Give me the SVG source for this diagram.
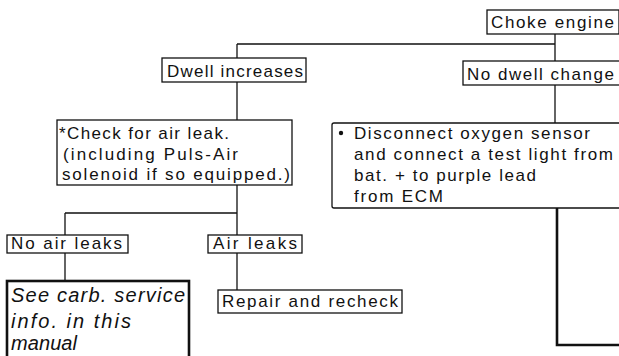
<svg xmlns="http://www.w3.org/2000/svg" width="619" height="356" viewBox="0 0 619 356">
<style>
.box{fill:#fff;stroke:#111;stroke-width:1.3}
.thick{fill:#fff;stroke:#111;stroke-width:2.6}
.t{font-family:"Liberation Sans",Arial,sans-serif;font-size:17px;fill:#111}
.it{font-family:"Liberation Sans",Arial,sans-serif;font-size:20px;font-style:italic;fill:#111}
.c{fill:none;stroke:#111;stroke-width:1.3}
.ct{fill:none;stroke:#111;stroke-width:2.6}
</style>
<rect width="619" height="356" fill="#fff"/>
<g id="connectors">
<path class="c" d="M555 34V61M237 44H555M237 44V58"/>
<path class="c" d="M237 82V120"/>
<path class="c" d="M555 85V123"/>
<path class="ct" d="M557 208V345H619"/>
<path class="c" d="M237 185V235M65 213H237M65 213V235"/>
<path class="c" d="M65 253V281"/>
<path class="c" d="M237 253V290"/>
</g>
<g id="choke">
<rect class="box" x="487" y="10" width="132" height="24"/>
<text class="t" x="491" y="28" textLength="123" lengthAdjust="spacing">Choke engine</text>
</g>
<g id="dwell-increases">
<rect class="box" x="162" y="58" width="144" height="24"/>
<text class="t" x="167" y="77" textLength="136" lengthAdjust="spacing">Dwell increases</text>
</g>
<g id="no-dwell-change">
<rect class="box" x="463" y="61" width="160" height="24"/>
<text class="t" x="467" y="80" textLength="147" lengthAdjust="spacing">No dwell change</text>
</g>
<g id="check-air-leak">
<rect class="box" x="57" y="120" width="235" height="65"/>
<text class="t" x="59" y="139" textLength="170" lengthAdjust="spacing">*Check for air leak.</text>
<text class="t" x="63" y="160" textLength="175" lengthAdjust="spacing">(including Puls-Air</text>
<text class="t" x="62" y="180" textLength="228" lengthAdjust="spacing">solenoid if so equipped.)</text>
</g>
<g id="disconnect-o2">
<rect class="box" x="332" y="123" width="292" height="85" rx="2"/>
<circle cx="341" cy="133" r="2.2" fill="#111"/>
<text class="t" x="354" y="139" textLength="236" lengthAdjust="spacing">Disconnect oxygen sensor</text>
<text class="t" x="354" y="160" textLength="259" lengthAdjust="spacing">and connect a test light from</text>
<text class="t" x="354" y="181" textLength="182" lengthAdjust="spacing">bat. + to purple lead</text>
<text class="t" x="354" y="202" textLength="89" lengthAdjust="spacing">from ECM</text>
</g>
<g id="no-air-leaks">
<rect class="box" x="7" y="235" width="121" height="18"/>
<text class="t" x="11" y="249" textLength="111" lengthAdjust="spacing">No air leaks</text>
</g>
<g id="air-leaks">
<rect class="box" x="208" y="235" width="94" height="18"/>
<text class="t" x="213" y="249" textLength="84" lengthAdjust="spacing">Air leaks</text>
</g>
<g id="see-carb">
<rect class="thick" x="7" y="281" width="182" height="90"/>
<text class="it" x="11" y="302" textLength="174" lengthAdjust="spacing">See carb. service</text>
<text class="it" x="11" y="328" textLength="120" lengthAdjust="spacing">info. in this</text>
<text class="it" x="11" y="350" font-size="20" font-style="italic" textLength="66" lengthAdjust="spacing">manual</text>
</g>
<g id="repair">
<rect class="box" x="218" y="290" width="184" height="23"/>
<text class="t" x="222" y="307" textLength="176" lengthAdjust="spacing">Repair and recheck</text>
</g>
</svg>
